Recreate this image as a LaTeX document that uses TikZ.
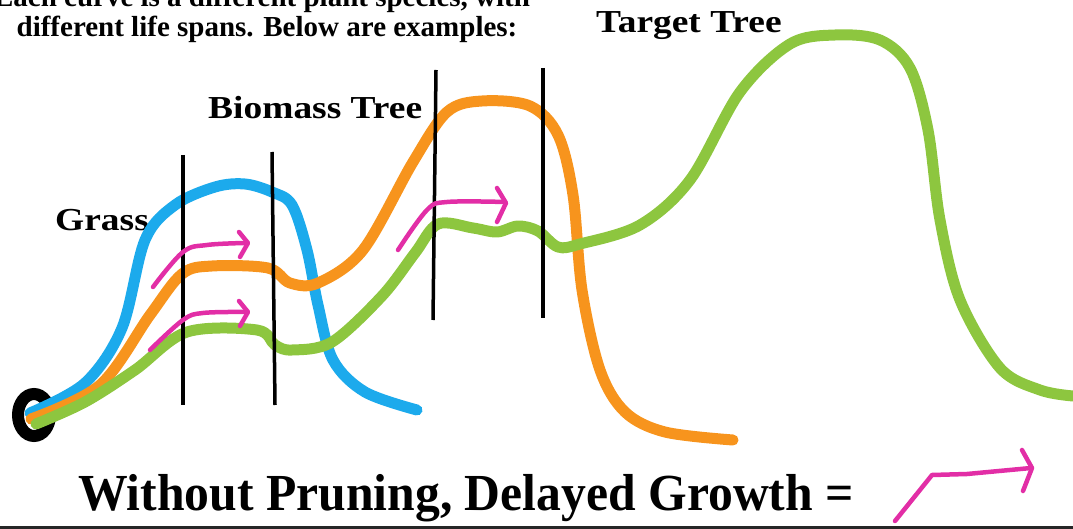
\documentclass[tikz,border=0pt]{standalone}
\usepackage{fontspec}
\setmainfont{Liberation Serif}
\usetikzlibrary{positioning}
\definecolor{grassblue}{RGB}{28,170,236}
\definecolor{biomassorange}{RGB}{247,148,29}
\definecolor{targetgreen}{RGB}{141,198,63}
\definecolor{delaypink}{RGB}{226,46,166}

\begin{document}
\begin{tikzpicture}[x=1pt,y=-1pt,
    curve/.style={line width=11pt, line cap=round, line join=round},
    cutline/.style={line width=3.5pt},
    delay/.style={delaypink, line width=4.5pt, line cap=round, line join=round},
    title/.style={font=\bfseries\fontsize{29}{30}\selectfont, inner sep=0pt},
    species/.style={font=\bfseries\fontsize{32}{32}\selectfont, inner sep=0pt, xscale=1.17}]
  \useasboundingbox (0,0) rectangle (1073,529);
  \clip (0,0) rectangle (1073,529);

  % heading, cut off at the top
  \node [title, anchor=base] (head1) at (262,7) {Each curve is a different plant species, with};
  \node [title, anchor=base] (head2) at (267,37) {different life spans.  Below are examples:};

  % species names
  \node [species, anchor=base west] (grass) at (55,231) {Grass};
  \node [species, anchor=base west] (biomass) at (208,119) {Biomass Tree};
  \node [species, anchor=base west] (target) at (596,33) {Target Tree};

  % start of growth
  \draw [line width=12pt] (34,415) ellipse [x radius=16, y radius=21];

  % growth curves
  \draw [curve, grassblue] plot [smooth, tension=0.55] coordinates {
    (30,413) (85,383) (122,328) (145,240) (175,205) (215,187) (245,184)
    (272,192) (292,205) (307,250) (318,305) (333,360) (365,392) (417,410)};
  \draw [curve, biomassorange] plot [smooth, tension=0.55] coordinates {
    (31,419) (100,385) (150,315) (182,274) (212,266) (268,268) (290,283)
    (318,283) (363,250) (413,162) (447,112) (482,101) (530,106) (558,135)
    (573,195) (582,290) (600,370) (625,412) (665,432) (733,440)};
  \draw [curve, targetgreen] plot [smooth, tension=0.55] coordinates {
    (36,424) (85,402) (135,370) (187,332) (257,330) (275,345) (292,350)
    (332,342) (382,296) (415,253) (438,224) (473,228) (497,232) (518,226)
    (538,231) (558,247) (580,244) (640,225) (690,180) (740,92) (790,44)
    (835,35) (880,40) (910,68) (928,130) (940,220) (960,300) (1000,368)
    (1040,390) (1073,396)};

  % pruning cuts
  \draw [cutline] (183,155) -- (183,405);
  \draw [cutline] (272,152) -- (275,405);
  \draw [cutline] (436,70) -- (433,320);
  \draw [cutline] (543,68) -- (543,318);

  % delayed growth
  \draw [delay] plot [smooth, tension=0.6] coordinates {(153,287) (183,252) (207,245) (245,243)};
  \draw [delay] (239,232) -- (248,243) -- (240,257);
  \draw [delay] plot [smooth, tension=0.6] coordinates {(150,350) (183,320) (203,313) (245,312)};
  \draw [delay] (239,301) -- (248,312) -- (240,326);
  \draw [delay] plot [smooth, tension=0.6] coordinates {(398,250) (427,210) (447,202) (505,202)};
  \draw [delay] (497,188) -- (506,203) -- (497,222);

  % legend
  \node [font=\bfseries\fontsize{52}{52}\selectfont, inner sep=0pt, xscale=0.955, anchor=base west] (legend) at (78,510) {Without Pruning, Delayed Growth =};
  \draw [delay] (895,521) -- (932,475) -- (967,474) -- (1031,468);
  \draw [delay] (1022,450) -- (1032,468) -- (1023,491);

  % frame edge
  \draw [line width=3pt, black!85] (0,527) -- (1073,527);
\end{tikzpicture}
\end{document}
